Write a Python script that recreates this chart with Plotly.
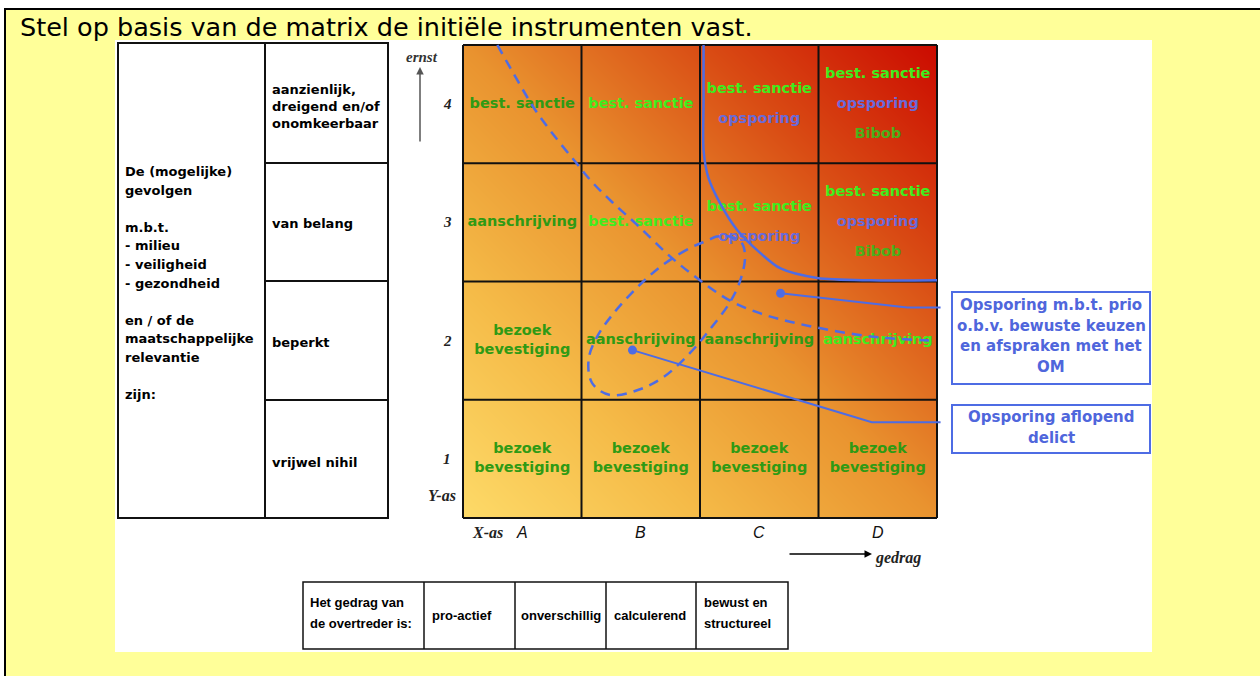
import plotly.graph_objects as go

W, H = 1260, 676
# pixel box of the 4x4 matrix on the page
GX0, GX1, GY0, GY1 = 463, 937, 45, 518
CW = (GX1 - GX0) / 4.0
CH = (GY1 - GY0) / 4.0

# ---------------- data ----------------
title = "Stel op basis van de matrix de initiële instrumenten vast."

col_labels = ["A", "B", "C", "D"]          # gedrag (X-as)
row_labels = ["1", "2", "3", "4"]          # ernst (Y-as)

# instruments per cell: rows 1..4, columns A..D, each a list of (text, tone)
row4 = [[("best. sanctie", "dark")],
        [("best. sanctie", "light")],
        [("best. sanctie", "light"), ("opsporing", "blue")],
        [("best. sanctie", "light"), ("opsporing", "blue"), ("Bibob", "mid")]]
row3 = [[("aanschrijving", "dark")],
        [("best. sanctie", "light")],
        [("best. sanctie", "light"), ("opsporing", "blue")],
        [("best. sanctie", "light"), ("opsporing", "blue"), ("Bibob", "mid")]]
row2 = [[("bezoek<br>bevestiging", "dark")],
        [("aanschrijving", "dark")],
        [("aanschrijving", "dark")],
        [("aanschrijving", "light")]]
row1 = [[("bezoek<br>bevestiging", "dark")],
        [("bezoek<br>bevestiging", "dark")],
        [("bezoek<br>bevestiging", "dark")],
        [("bezoek<br>bevestiging", "dark")]]
cell_rows = {1: row1, 2: row2, 3: row3, 4: row4}

tone_colors = {"dark": "#2F9A14", "light": "#3FEC1E", "blue": "#6A6AD8", "mid": "#4CAE1A"}

# dashed boundary curve (matrix units: columns 0..4, rows 0..4)
dash_u = [0.29, 0.46, 0.61, 0.78, 0.95, 1.09, 1.26, 1.49, 1.75, 2.00, 2.25, 2.51, 2.76, 3.04, 3.33, 3.60, 3.98]
dash_v = [4.00, 3.70, 3.45, 3.22, 3.01, 2.84, 2.67, 2.46, 2.21, 2.01, 1.84, 1.73, 1.66, 1.60, 1.55, 1.52, 1.50]

# dashed loop ("opsporing aflopend delict")
loop_u = [2.07, 1.89, 1.66, 1.47, 1.27, 1.13, 1.06, 1.09, 1.24, 1.47, 1.69, 1.92, 2.08, 2.25, 2.34, 2.38, 2.35, 2.25, 2.14, 2.07]
loop_v = [2.35, 2.27, 2.12, 1.95, 1.73, 1.53, 1.34, 1.14, 1.04, 1.08, 1.19, 1.40, 1.59, 1.82, 2.01, 2.21, 2.33, 2.38, 2.38, 2.35]

# solid boundary curve ("opsporing m.b.t. prio")
solid_u = [2.03, 2.03, 2.03, 2.07, 2.17, 2.31, 2.51, 2.68, 2.99, 3.44, 4.00]
solid_v = [4.00, 3.54, 3.11, 2.88, 2.66, 2.44, 2.24, 2.11, 2.03, 2.01, 2.01]

# callout leader lines
call1_u = [2.68, 3.75, 4.03]
call1_v = [1.90, 1.78, 1.78]
call2_u = [1.43, 3.45, 4.03]
call2_v = [1.42, 0.81, 0.81]

callout1 = ["Opsporing m.b.t. prio", "o.b.v. bewuste keuzen", "en afspraken met het", "OM"]
callout2 = ["Opsporing aflopend", "delict"]

# left table
consequence_lines = ["De (mogelijke)", "gevolgen", "", "m.b.t.", "- milieu", "- veiligheid",
                     "- gezondheid", "", "en / of de", "maatschappelijke", "relevantie", "", "zijn:"]
severity_levels = ["aanzienlijk,<br>dreigend en/of<br>onomkeerbaar", "van belang", "beperkt", "vrijwel nihil"]

# bottom table
behaviour_header = ["Het gedrag van", "de overtreder is:"]
behaviour_levels = [["pro-actief"], ["onverschillig"], ["calculerend"], ["bewust en", "structureel"]]

# ---------------- helpers ----------------
def PX(x):
    return x / W


def PY(y):
    return 1 - y / H


BLUE = "#4E6CE4"
BLACK = "#111111"

fig = go.Figure()

# background gradient of the matrix (main axes = exactly the matrix box)
fig.add_trace(go.Heatmap(
    x=[0, 4], y=[0, 4], z=[[0, 0.5], [0.5, 1]], zmin=0, zmax=1, zsmooth="best",
    colorscale=[[0, "#FDDA68"], [0.25, "#F5BB48"], [0.5, "#E9932F"], [0.75, "#D94C14"], [1, "#CB0A00"]],
    showscale=False, hoverinfo="skip", xaxis="x", yaxis="y"))

# grid lines (overlay axes x2/y2 in the same units, spanning the page)
gx, gy = [], []
for k in range(5):
    gx += [k, k, None]
    gy += [0, 4, None]
    gx += [0, 4, None]
    gy += [k, k, None]
fig.add_trace(go.Scatter(x=gx, y=gy, mode="lines", line=dict(color=BLACK, width=2),
                         hoverinfo="skip", xaxis="x2", yaxis="y2"))

# cell texts
STEP = 0.255
tx, ty, tt, tc = [], [], [], []
for r, cols in cell_rows.items():
    for c, items in enumerate(cols):
        n = len(items)
        for k, (txt, tone) in enumerate(items):
            tx.append(c + 0.5)
            ty.append(r - 0.5 - (k - (n - 1) / 2) * STEP)
            tt.append(txt)
            tc.append(tone_colors[tone])
fig.add_trace(go.Scatter(x=tx, y=ty, text=tt, mode="text", textposition="middle center",
                         textfont=dict(family="DejaVu Sans", size=14.5, color=tc, weight="bold"),
                         hoverinfo="skip", xaxis="x2", yaxis="y2"))

# curves
fig.add_trace(go.Scatter(x=dash_u, y=dash_v, mode="lines",
                         line=dict(color=BLUE, width=2.5, dash="10px,7px", shape="spline", smoothing=1),
                         hoverinfo="skip", xaxis="x2", yaxis="y2"))
fig.add_trace(go.Scatter(x=loop_u, y=loop_v, mode="lines",
                         line=dict(color=BLUE, width=2.5, dash="10px,7px", shape="spline", smoothing=1),
                         hoverinfo="skip", xaxis="x2", yaxis="y2"))
fig.add_trace(go.Scatter(x=solid_u, y=solid_v, mode="lines",
                         line=dict(color=BLUE, width=2.5, shape="spline", smoothing=0.8),
                         hoverinfo="skip", xaxis="x2", yaxis="y2"))
for cu, cv in ((call1_u, call1_v), (call2_u, call2_v)):
    fig.add_trace(go.Scatter(x=cu, y=cv, mode="lines", line=dict(color=BLUE, width=2),
                             hoverinfo="skip", xaxis="x2", yaxis="y2"))
    fig.add_trace(go.Scatter(x=[cu[0]], y=[cv[0]], mode="markers",
                             marker=dict(color=BLUE, size=9), hoverinfo="skip", xaxis="x2", yaxis="y2"))

# ---------------- shapes ----------------
shapes = [
    dict(type="rect", xref="paper", yref="paper", x0=PX(5), y0=PY(9), x1=PX(1270), y1=PY(690),
         fillcolor="#FFFF99", line=dict(color="#000", width=2), layer="below"),
    dict(type="rect", xref="paper", yref="paper", x0=PX(115), y0=PY(40), x1=PX(1152), y1=PY(652),
         fillcolor="#FFFFFF", line=dict(width=0), layer="below"),
    # left table
    dict(type="rect", xref="paper", yref="paper", x0=PX(118), y0=PY(43), x1=PX(388), y1=PY(518),
         line=dict(color=BLACK, width=2), layer="below"),
    dict(type="line", xref="paper", yref="paper", x0=PX(265), y0=PY(43), x1=PX(265), y1=PY(518),
         line=dict(color=BLACK, width=2), layer="below"),
    # bottom table
    dict(type="rect", xref="paper", yref="paper", x0=PX(303), y0=PY(582), x1=PX(788), y1=PY(649),
         line=dict(color=BLACK, width=1.5), layer="below"),
    # callout boxes
    dict(type="rect", xref="paper", yref="paper", x0=PX(952), y0=PY(292), x1=PX(1150), y1=PY(384),
         fillcolor="#FFFFFF", line=dict(color=BLUE, width=2), layer="below"),
    dict(type="rect", xref="paper", yref="paper", x0=PX(952), y0=PY(405), x1=PX(1150), y1=PY(453),
         fillcolor="#FFFFFF", line=dict(color=BLUE, width=2), layer="below"),
]
for yy in (163, 281, 400):
    shapes.append(dict(type="line", xref="paper", yref="paper", x0=PX(265), y0=PY(yy), x1=PX(388), y1=PY(yy),
                       line=dict(color=BLACK, width=2), layer="below"))
for xx in (424, 515, 606, 696):
    shapes.append(dict(type="line", xref="paper", yref="paper", x0=PX(xx), y0=PY(582), x1=PX(xx), y1=PY(649),
                       line=dict(color=BLACK, width=1.5), layer="below"))

# ---------------- annotations ----------------
ann = []


def text(t, x, y, size, family="DejaVu Sans", color="#000", anchor="left", weight="normal", style="normal"):
    ann.append(dict(text=t, x=PX(x), y=PY(y), xref="paper", yref="paper", showarrow=False,
                    xanchor=anchor, yanchor="middle", align=anchor if anchor != "center" else "center",
                    font=dict(family=family, size=size, color=color, weight=weight, style=style)))


text(title, 18, 27, 25.5)

# left table
for i, line in enumerate(consequence_lines):
    if line:
        text(line, 123, 172 + i * 18.5, 13, weight="bold")
for t, yy in zip(severity_levels, (106, 223, 342, 462)):
    text(t, 270, yy, 13, weight="bold")

# axis labels around the matrix
SER = "Liberation Serif"
text("ernst", 422, 57, 15, family=SER, color="#333", anchor="center", weight="bold", style="italic")
for lab, k in zip(row_labels, range(4)):
    yy = GY1 - (k + 0.5) * CH
    text(lab, 447, yy, 15, family=SER, color="#222", anchor="center", weight="bold", style="italic")
text("Y-as", 442, 495, 16, family=SER, color="#222", anchor="center", weight="bold", style="italic")
text("X-as", 487, 532, 16, family=SER, color="#222", anchor="center", weight="bold", style="italic")
for lab, k in zip(col_labels, range(4)):
    xx = GX0 + (k + 0.5) * CW
    text(lab, xx, 532, 16, family="Liberation Sans", color="#111", anchor="center", style="italic")
text("gedrag", 898, 558, 16, family=SER, color="#222", anchor="center", weight="bold", style="italic")

# arrows
ann.append(dict(x=PX(420), y=PY(67), xref="paper", yref="paper", ax=0, ay=76, text="", showarrow=True,
                arrowhead=2, arrowsize=1, arrowwidth=1.5, arrowcolor="#555", standoff=0))
ann.append(dict(x=PX(872), y=PY(554), xref="paper", yref="paper", ax=-84, ay=0, text="", showarrow=True,
                arrowhead=2, arrowsize=1, arrowwidth=1.5, arrowcolor="#000", standoff=0))

# callout texts
for i, line in enumerate(callout1):
    text(line, 1051, 305 + i * 20.6, 15, color="#4F66DC", anchor="center", weight="bold")
for i, line in enumerate(callout2):
    text(line, 1051, 417 + i * 21, 15, color="#4F66DC", anchor="center", weight="bold")

# bottom table
LS = "Liberation Sans"
for i, line in enumerate(behaviour_header):
    text(line, 308, 602 + i * 21, 13, family=LS, weight="bold")
for lines, xx in zip(behaviour_levels, (430, 519, 612, 702)):
    if len(lines) == 1:
        text(lines[0], xx, 615, 13, family=LS, weight="bold")
    else:
        for i, line in enumerate(lines):
            text(line, xx, 602 + i * 21, 13, family=LS, weight="bold")

fig.update_layout(
    width=W, height=H, margin=dict(l=0, r=0, t=0, b=0),
    paper_bgcolor="#FFFFFF", plot_bgcolor="rgba(0,0,0,0)", showlegend=False,
    xaxis=dict(domain=[GX0 / W, GX1 / W], range=[0, 4], visible=False, fixedrange=True),
    yaxis=dict(domain=[1 - GY1 / H, 1 - GY0 / H], range=[0, 4], visible=False, fixedrange=True),
    xaxis2=dict(domain=[0, 1], range=[(0 - GX0) / CW, (W - GX0) / CW], visible=False, anchor="y2", fixedrange=True),
    yaxis2=dict(domain=[0, 1], range=[(GY1 - H) / CH, GY1 / CH], visible=False, anchor="x2", fixedrange=True),
    shapes=shapes, annotations=ann,
)

fig.write_html("out.html", config={"displayModeBar": False},
               post_script="document.body.style.margin='0';document.body.style.overflow='hidden';")
